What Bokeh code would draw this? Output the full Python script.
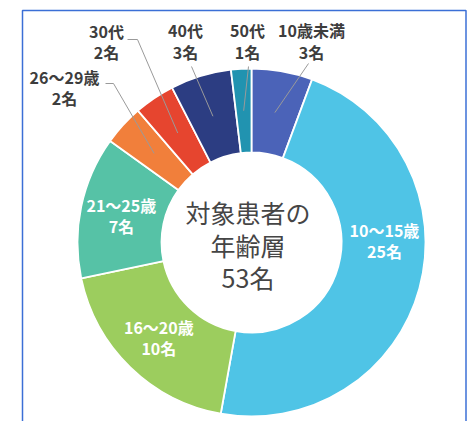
import numpy as np
from bokeh.plotting import figure
from bokeh.models import Range1d, ColumnDataSource
from bokeh.core.properties import value
from bokeh.embed import file_html
from bokeh.resources import INLINE

# ---- data ----
categories = ["10歳未満", "10～15歳", "16～20歳", "21～25歳", "26～29歳", "30代", "40代", "50代"]
counts = [3, 25, 10, 7, 2, 2, 3, 1]
unit = "名"
title_lines = ["対象患者の", "年齢層"]
colors = ["#4b63b8", "#4fc4e6", "#9ccd5e", "#56c2a6", "#f17f3b", "#e6452f", "#2c3d82", "#2193b0"]

# ---- layout ----
W, H = 470, 421
FONT = value("Noto Sans CJK JP")
LABEL_SIZE = "16px"


def P(px, py):
    """page pixel -> data coords"""
    return px, H - py


p = figure(width=W, height=H, x_range=Range1d(0, W), y_range=Range1d(0, H),
           output_backend="svg", toolbar_location=None, min_border=0,
           x_axis_location=None, y_axis_location=None)
p.grid.visible = False
p.outline_line_color = None
p.background_fill_color = "white"

# frame (left, top, right)
fx0, fy0 = P(22, 10)
fx1, fyb = P(465.5, 425)
p.line(x=[fx0, fx0, fx1, fx1], y=[fyb, fy0, fy0, fyb], line_color="#3b6fd6", line_width=1.5)

cx, cy = P(251, 242)
R_OUT, R_IN = 174, 90

total = sum(counts)
frac = np.array(counts) / total
cum = np.cumsum(frac)
prev = np.concatenate([[0], cum[:-1]])
start = np.pi / 2 - 2 * np.pi * prev
end = np.pi / 2 - 2 * np.pi * cum
mid_cw = 2 * np.pi * (prev + cum) / 2  # clockwise from top

src = ColumnDataSource(dict(start=start, end=end, color=colors))
p.annular_wedge(x=cx, y=cy, inner_radius=R_IN, outer_radius=R_OUT,
                start_angle="start", end_angle="end", direction="clock",
                fill_color="color", line_color="white", line_width=1.8, source=src)


def label(x, y, txt, color):
    p.text(x=[x], y=[y], text=[txt], text_font=FONT, text_font_style="bold",
           text_font_size=LABEL_SIZE, text_color=color, text_align="center", text_baseline="middle")


# inside labels
inside = {1: np.deg2rad(89), 2: None, 3: None}
for i, ang in inside.items():
    th = mid_cw[i] if ang is None else ang
    r = 133
    x = cx + r * np.sin(th)
    y = cy + r * np.cos(th)
    label(x, y + 10.5, categories[i], "white")
    label(x, y - 10.5, f"{counts[i]}{unit}", "white")

# outside labels: label centre (page coords) and leader line start points
outside = {
    0: ((311, 29, 51), [(308, 63)]),
    7: ((247, 29, 51), [(248, 66)]),
    6: ((185, 29, 51), [(191, 66)]),
    5: ((106, 30, 51), [(127, 39), (137, 39)]),
    4: ((64, 76, 97), [(105, 83), (113, 83)]),
}
LABEL_COLOR = "#3d3d3d"
for i, ((lx, ly1, ly2), pts) in outside.items():
    x1, y1 = P(lx, ly1)
    _, y2 = P(lx, ly2)
    label(x1, y1, categories[i], LABEL_COLOR)
    label(x1, y2, f"{counts[i]}{unit}", LABEL_COLOR)
    xs = [P(a, b)[0] for a, b in pts]
    ys = [P(a, b)[1] for a, b in pts]
    r = 132
    xs.append(cx + r * np.sin(mid_cw[i]))
    ys.append(cy + r * np.cos(mid_cw[i]))
    p.line(x=xs, y=ys, line_color="#9a9a9a", line_width=1)

# centre title
center_lines = title_lines + [f"{total}{unit}"]
center_y = [211, 244, 276]
for t, py in zip(center_lines, center_y):
    x, y = P(247.5, py)
    p.text(x=[x], y=[y], text=[t], text_font=FONT, text_font_style="normal",
           text_font_size="25px", text_color="#454545", text_align="center", text_baseline="middle")

open("out.html", "w").write(file_html(p, INLINE))
